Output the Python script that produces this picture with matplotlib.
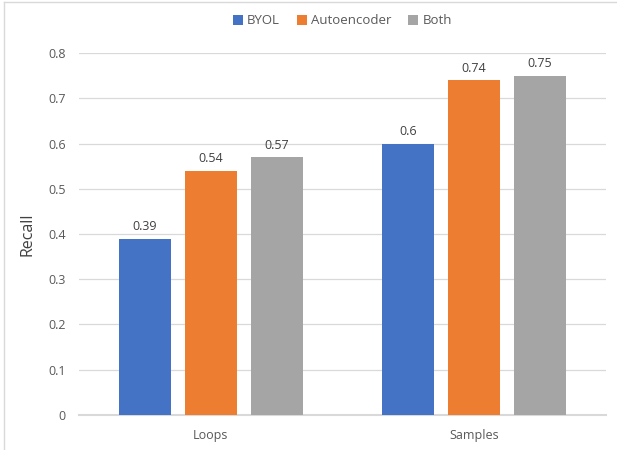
import numpy as np
import matplotlib.pyplot as plt
from matplotlib.lines import Line2D

plt.rcParams['font.family'] = ['Open Sans', 'DejaVu Sans']

categories = ['Loops', 'Samples']
series = ['BYOL', 'Autoencoder', 'Both']
byol = [0.39, 0.60]
autoencoder = [0.54, 0.74]
both = [0.57, 0.75]
colors = ['#4472C4', '#ED7D31', '#A5A5A5']

fig = plt.figure(figsize=(6.17, 4.5), dpi=100)
ax = fig.add_axes([0.128, 0.078, 0.854, 0.804])

x = np.arange(len(categories))
width = 0.197
offsets = [-0.25, 0, 0.25]
for vals, name, c, off in zip([byol, autoencoder, both], series, colors, offsets):
    bars = ax.bar(x + off, vals, width, color=c, label=name, zorder=3)
    for b, v in zip(bars, vals):
        ax.text(b.get_x() + b.get_width() / 2, v + 0.012, f'{v:g}',
                ha='center', va='bottom', fontsize=9, color='#404040')

ax.set_xlim(-0.5, 1.5)
ax.set_ylim(0, 0.8)
ax.set_yticks(np.arange(0, 0.81, 0.1))
ax.set_yticklabels(['0'] + [f'{v:.1f}' for v in np.arange(0.1, 0.81, 0.1)])
ax.set_xticks(x)
ax.set_xticklabels(categories)
ax.tick_params(axis='both', length=0, labelsize=9, labelcolor='#595959')
ax.tick_params(axis='y', pad=9.5)
ax.tick_params(axis='x', pad=10)
ax.grid(axis='y', color='#D9D9D9', linewidth=0.9, zorder=0)
for s in ['top', 'right', 'left']:
    ax.spines[s].set_visible(False)
ax.spines['bottom'].set_color('#D9D9D9')
ax.spines['bottom'].set_linewidth(1.5)
ax.set_ylabel('Recall', fontsize=11.5, color='#404040')
ax.yaxis.set_label_coords(-0.083, 0.5)

ax.legend(loc='upper center', bbox_to_anchor=(0.5, 1.14), ncol=3, frameon=False,
          fontsize=9.5, handlelength=0.75, handleheight=0.75, handletextpad=0.3,
          columnspacing=1.3, labelcolor='#595959')

# chart border (left and top visible)
fig.add_artist(Line2D([4 / 617, 4 / 617], [0, 1 - 2 / 450], transform=fig.transFigure,
                      color='#D9D9D9', linewidth=1))
fig.add_artist(Line2D([4 / 617, 1], [1 - 2 / 450, 1 - 2 / 450], transform=fig.transFigure,
                      color='#D9D9D9', linewidth=1))

fig.savefig('out.png', dpi=100)
